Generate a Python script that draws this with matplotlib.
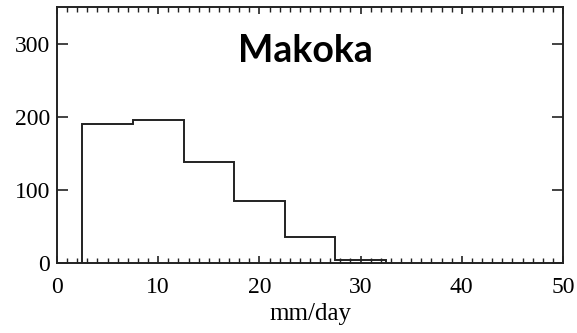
import numpy as np
import matplotlib
matplotlib.use('Agg')
import matplotlib.pyplot as plt
from matplotlib.ticker import MultipleLocator

# Histogram bins (mm/day) and counts
bin_edges = [2.5, 7.5, 12.5, 17.5, 22.5, 27.5, 32.5]
counts = [190, 195, 138, 85, 35, 4]
x_ticks = [0, 10, 20, 30, 40, 50]
y_ticks = [0, 100, 200, 300]

fig = plt.figure(figsize=(5.77, 3.33), dpi=100)
ax = fig.add_axes([57 / 577, 1 - 263 / 333, (563 - 57) / 577, (263 - 7) / 333])

ax.stairs(counts, bin_edges, baseline=0, fill=False, color='#222222', linewidth=1.4)

ax.set_xlim(0, 50)
ax.set_ylim(0, 350)
ax.set_xticks(x_ticks)
ax.set_yticks(y_ticks)
ax.xaxis.set_minor_locator(MultipleLocator(1))

ax.tick_params(which='both', direction='in', top=True, right=True, color='#222222')
ax.tick_params(axis='x', which='major', length=5, width=1.2, pad=10)
ax.tick_params(axis='x', which='minor', length=3.5, width=1.0)
ax.tick_params(axis='y', which='major', length=8, width=1.2, pad=5)
ax.tick_params(axis='y', which='minor', left=False, right=False)
for lab in ax.get_xticklabels() + ax.get_yticklabels():
    lab.set_fontfamily('Liberation Serif')
    lab.set_fontsize(17)

for s in ax.spines.values():
    s.set_linewidth(1.4)
    s.set_color('#222222')

ax.set_xlabel('mm/day', family='Liberation Serif', fontsize=18, labelpad=4)

ax.text(0.49, 0.83, 'Makoka', transform=ax.transAxes, ha='center', va='center',
        family='Lato', fontweight='bold', fontsize=27)

fig.savefig('out.png', dpi=100)
